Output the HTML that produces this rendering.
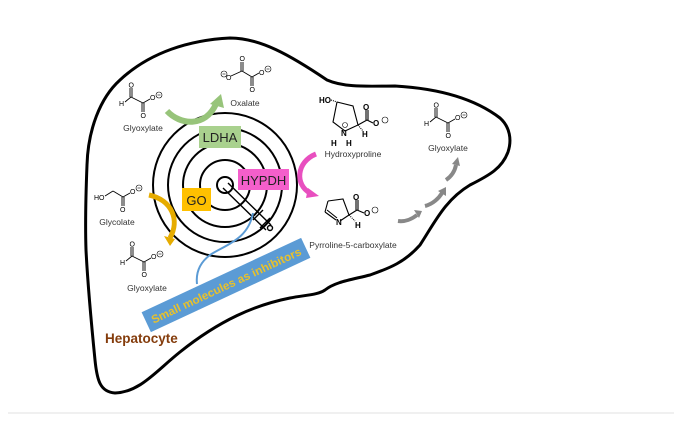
<!DOCTYPE html>
<html><head><meta charset="utf-8"><style>
html,body{margin:0;padding:0;background:#fff;}
svg{display:block;}
text{font-family:"Liberation Sans",sans-serif;}
</style></head><body>
<svg width="674" height="427" viewBox="0 0 674 427" xmlns="http://www.w3.org/2000/svg">
<defs>
<g id="glx" stroke="#000" stroke-width="0.9" fill="none">
 <line x1="3" y1="-1" x2="9" y2="-6"/>
 <line x1="8" y1="-6" x2="8" y2="-15"/><line x1="10" y1="-6" x2="10" y2="-15"/>
 <line x1="9" y1="-6" x2="21" y2="0"/>
 <line x1="20" y1="0" x2="20" y2="9"/><line x1="22" y1="0" x2="22" y2="9"/>
 <line x1="21" y1="0" x2="28" y2="-4"/>
 <text x="-3" y="3" font-size="7" fill="#000" stroke="none">H</text>
 <text x="6.5" y="-15.5" font-size="7" fill="#000" stroke="none">O</text>
 <text x="18.5" y="15" font-size="7" fill="#000" stroke="none">O</text>
 <text x="28" y="-3" font-size="7" fill="#000" stroke="none">O</text>
 <circle cx="37" cy="-8" r="3" stroke-width="0.6"/><line x1="35.5" y1="-8" x2="38.5" y2="-8" stroke-width="0.6"/>
</g>
</defs>
<rect width="674" height="427" fill="#fff"/>
<line x1="8" y1="413" x2="674" y2="413" stroke="#e8e8e8" stroke-width="1.2"/>
<path d="M87,165 C88,130 100,98 120,80 C150,52 190,40 230,38 C260,38 290,55 327,80 C345,88 370,86 395,86 C430,88 470,95 500,118 C510,127 512,140 508,152 C502,168 490,175 470,185 C445,200 435,222 420,245 C405,262 390,268 370,275 C350,280 335,282 325,290 C318,295 305,295 290,298 C255,305 220,320 180,352 C155,372 140,392 115,393 C100,392 97,380 95,360 C92,330 88,290 86,250 C85,220 86,190 87,165 Z" fill="none" stroke="#000" stroke-width="3"/>
<g fill="none" stroke="#000" stroke-width="2">
<circle cx="225" cy="185" r="72"/>
<circle cx="225" cy="185" r="57"/>
<circle cx="225" cy="185" r="42"/>
<circle cx="225" cy="185" r="25"/>
<circle cx="225" cy="185" r="8" fill="#fff"/>
</g>
<g stroke="#000" stroke-width="1.4" fill="none">
<line x1="223" y1="188" x2="266" y2="230"/>
<line x1="228" y1="183" x2="271" y2="225"/>
<line x1="253" y1="220" x2="263" y2="210"/>
<line x1="260" y1="228" x2="270" y2="218"/>
<circle cx="270" cy="228" r="2.5" fill="#fff"/>
</g>
<rect x="199" y="126" width="42" height="22" fill="#a9d18e"/>
<text x="220" y="142" font-size="13" text-anchor="middle" fill="#222">LDHA</text>
<rect x="238" y="169" width="51" height="21" fill="#f45fcb"/>
<text x="263.5" y="185" font-size="13" text-anchor="middle" fill="#222">HYPDH</text>
<rect x="182" y="188" width="29" height="23" fill="#ffc000"/>
<text x="196.5" y="205" font-size="13" text-anchor="middle" fill="#222">GO</text>
<path d="M253,213 C248,240 225,245 210,255 C198,264 196,275 197,284" fill="none" stroke="#5b9bd5" stroke-width="2"/>
<g transform="translate(226,285) rotate(-25)">
<rect x="-88" y="-11" width="176" height="22" fill="#5b9bd5"/>
<text x="0" y="4.5" font-size="11.5" font-weight="bold" text-anchor="middle" fill="#e9c12a" textLength="164" lengthAdjust="spacingAndGlyphs">Small molecules as inhibitors</text>
</g>
<path d="M167,111 C180,125 205,128 216,104" fill="none" stroke="#97c47a" stroke-width="6"/>
<polygon points="210,104 221,94 224,108" fill="#97c47a"/>
<path d="M149,195 C172,200 180,220 170,238" fill="none" stroke="#e6ac00" stroke-width="5"/>
<polygon points="164,236 170,246 175,239" fill="#e6ac00"/>
<path d="M316,154 C296,162 295,185 310,193" fill="none" stroke="#e84fbf" stroke-width="5"/>
<polygon points="308,188 319,196 306,198" fill="#e84fbf"/>
<g fill="none" stroke="#888" stroke-width="4">
<path d="M398,221 C405,222 412,219 417,215"/>
<path d="M425,206 C433,204 439,198 442,193"/>
<path d="M446,180 C452,176 455,170 456,165"/>
</g>
<g fill="#888">
<polygon points="414,210 422,211 419,218"/>
<polygon points="438,191 446,187 446,196"/>
<polygon points="452,164 458,157 460,166"/>
</g>
<use href="#glx" x="122" y="103"/>
<use href="#glx" x="123" y="262"/>
<use href="#glx" x="427" y="123"/>
<g stroke="#000" stroke-width="0.9" fill="none">
<line x1="231" y1="76" x2="242" y2="71"/>
<line x1="241" y1="71" x2="241" y2="62"/><line x1="243" y1="71" x2="243" y2="62"/>
<line x1="242" y1="71" x2="252" y2="77"/>
<line x1="251" y1="77" x2="251" y2="86"/><line x1="253" y1="77" x2="253" y2="86"/>
<line x1="252" y1="77" x2="259" y2="73"/>
<circle cx="224" cy="74" r="3" stroke-width="0.6"/><line x1="222.5" y1="74" x2="225.5" y2="74" stroke-width="0.6"/>
<circle cx="268" cy="69" r="3" stroke-width="0.6"/><line x1="266.5" y1="69" x2="269.5" y2="69" stroke-width="0.6"/>
</g>
<g font-size="7" fill="#000">
<text x="226" y="80">O</text><text x="239.5" y="61">O</text><text x="249.5" y="92">O</text><text x="259" y="75">O</text>
</g>
<g stroke="#000" stroke-width="0.9" fill="none">
<line x1="105" y1="196" x2="113" y2="191"/>
<line x1="113" y1="191" x2="123" y2="197"/>
<line x1="122" y1="197" x2="122" y2="206"/><line x1="124" y1="197" x2="124" y2="206"/>
<line x1="123" y1="197" x2="130" y2="193"/>
<circle cx="139" cy="188" r="3" stroke-width="0.6"/><line x1="137.5" y1="188" x2="140.5" y2="188" stroke-width="0.6"/>
</g>
<g font-size="7" fill="#000"><text x="94" y="200">HO</text><text x="120" y="212">O</text><text x="130" y="194">O</text></g>
<g stroke="#000" stroke-width="1.1" fill="none">
<polyline points="337,102 353,106 358,125 345,131 333,122 337,102"/>
<line x1="331" y1="100" x2="337" y2="102" stroke-dasharray="1 1"/>
<line x1="358" y1="125" x2="367" y2="120"/>
<line x1="366" y1="120" x2="366" y2="110"/><line x1="368" y1="120" x2="368" y2="110"/>
<line x1="367" y1="120" x2="373" y2="123"/>
<line x1="358" y1="125" x2="363" y2="131" stroke-dasharray="1 1"/>
<circle cx="385" cy="120" r="3" stroke-width="0.6"/>
<circle cx="345" cy="125" r="2.5" stroke-width="0.6"/>
</g>
<g font-size="8" font-weight="bold" fill="#000">
<text x="319" y="103">HO</text><text x="363" y="110">O</text><text x="373" y="126">O</text>
<text x="341" y="136">N</text><text x="331" y="146">H</text><text x="346" y="146">H</text><text x="362" y="137">H</text>
</g>
<g stroke="#000" stroke-width="1.1" fill="none">
<polyline points="328,201 343,199 349,215 340,221"/>
<line x1="328" y1="201" x2="325" y2="212"/>
<line x1="325" y1="212" x2="336" y2="220"/><line x1="327" y1="210" x2="337" y2="218"/>
<line x1="349" y1="215" x2="357" y2="210"/>
<line x1="356" y1="210" x2="356" y2="200"/><line x1="358" y1="210" x2="358" y2="200"/>
<line x1="357" y1="210" x2="364" y2="213"/>
<line x1="349" y1="215" x2="355" y2="221" stroke-dasharray="1 1"/>
<circle cx="375" cy="210" r="3" stroke-width="0.6"/>
</g>
<g font-size="8" font-weight="bold" fill="#000">
<text x="336" y="225">N</text><text x="353" y="200">O</text><text x="364" y="216">O</text><text x="355" y="228">H</text>
</g>
<g font-size="8.5" fill="#333" text-anchor="middle">
<text x="143" y="131">Glyoxylate</text>
<text x="245" y="106">Oxalate</text>
<text x="117" y="225">Glycolate</text>
<text x="147" y="291">Glyoxylate</text>
<text x="353" y="157">Hydroxyproline</text>
<text x="353" y="248">Pyrroline-5-carboxylate</text>
<text x="448" y="151">Glyoxylate</text>
</g>
<text x="105" y="343" font-size="13.5" font-weight="bold" fill="#843c0c">Hepatocyte</text>
</svg>
</body></html>
